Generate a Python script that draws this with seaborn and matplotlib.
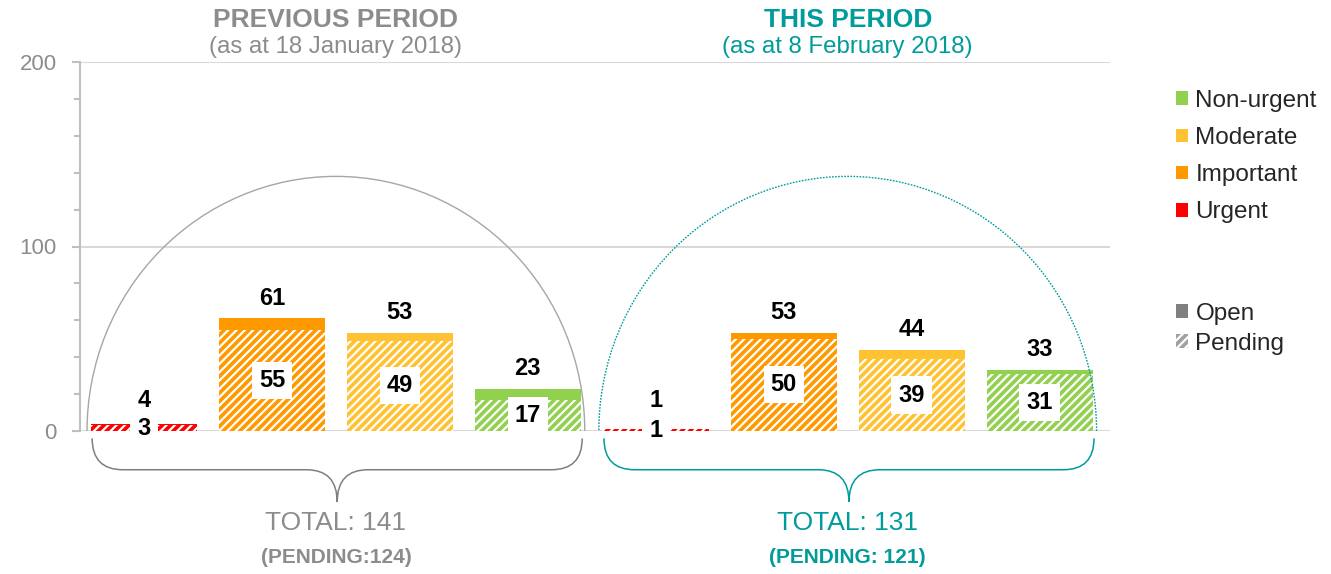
import numpy as np
import pandas as pd
import matplotlib
matplotlib.use("Agg")
import matplotlib.pyplot as plt
import seaborn as sns
from matplotlib.patches import Arc, Patch, PathPatch
from matplotlib.path import Path

# --- datos ---
categories = ["Urgent", "Important", "Moderate", "Non-urgent"]
cat_colors = ["#FF0000", "#FF9900", "#FFC233", "#92D050"]

prev_total = [4, 61, 53, 23]
prev_pending = [3, 55, 49, 17]
this_total = [1, 53, 44, 33]
this_pending = [1, 50, 39, 31]

period_titles = ["PREVIOUS PERIOD", "THIS PERIOD"]
period_dates = ["(as at 18 January 2018)", "(as at 8 February 2018)"]
period_totals = ["TOTAL: 141", "TOTAL: 131"]
period_pending = ["(PENDING:124)", "(PENDING: 121)"]
period_colors = ["#8C8C8C", "#009B9B"]
arc_colors = ["#A6A6A6", "#009B9B"]
brace_colors = ["#7F7F7F", "#009B9B"]

sns.set_theme(style="white")
plt.rcParams["font.family"] = ["Liberation Sans", "DejaVu Sans"]
plt.rcParams["hatch.linewidth"] = 1.6

slots = [f"{p}|{c}" for p in ["prev", "this"] for c in categories]
df = pd.DataFrame({
    "slot": slots,
    "total": prev_total + this_total,
    "pending": prev_pending + this_pending,
})
palette = dict(zip(slots, cat_colors * 2))

fig = plt.figure(figsize=(13.31, 5.74), dpi=100)
ax = fig.add_axes([80 / 1331, 1 - 431 / 574, (1110 - 80) / 1331, (431 - 62) / 574])

bw = 0.83
# barra completa (abierta) y encima la parte pendiente rayada
sns.barplot(data=df, x="slot", y="total", hue="slot", palette=palette, order=slots,
            hue_order=slots, width=bw, saturation=1, legend=False, errorbar=None,
            linewidth=0, ax=ax)
sns.barplot(data=df, x="slot", y="pending", hue="slot", palette=palette, order=slots,
            hue_order=slots, width=bw, saturation=1, legend=False, errorbar=None,
            linewidth=0, edgecolor="white", hatch="////", ax=ax)

# etiquetas: total encima, pendiente en caja blanca
for i, row in df.iterrows():
    ax.text(i, max(row["total"] + 11, 16.5), str(row["total"]), ha="center", va="center",
            fontsize=17, fontweight="bold", color="black", zorder=6)
    ax.text(i, row["pending"] / 2, str(row["pending"]), ha="center", va="center",
            fontsize=17, fontweight="bold", color="black", zorder=5,
            bbox=dict(boxstyle="square,pad=0.3", fc="white", ec="none"))

# ejes
ax.set_xlim(-0.5, 7.55)
ax.set_ylim(0, 200)
ax.set_xlabel("")
ax.set_ylabel("")
ax.set_xticks([])
ax.set_yticks([0, 100, 200])
ax.set_yticks(np.arange(0, 201, 20), minor=True)
ax.yaxis.grid(True, which="major", color="#D9D9D9", lw=1.5)
ax.set_axisbelow(True)
for s in ["top", "right", "bottom"]:
    ax.spines[s].set_visible(False)
ax.spines["left"].set_color("#BFBFBF")
ax.spines["left"].set_linewidth(1.5)
ax.tick_params(axis="y", which="major", left=True, length=5.8, width=1.5,
               color="#BFBFBF", labelsize=16, labelcolor="#8C8C8C", pad=10.8)
ax.tick_params(axis="y", which="minor", left=True, length=4.3, width=1.5, color="#BFBFBF")

# arcos, llaves y textos por periodo
group_centers = [1.5, 5.5]
arc_hw = 1.5 + bw / 2 + 0.03
arc_h = 138


def brace(x0, x1, color):
    xm = (x0 + x1) / 2
    y0, y1, y2 = -4, -21, -38.5
    r = 0.24
    verts = [(x0, y0), (x0, y1), (x0 + r, y1), (xm - r, y1), (xm, y1), (xm, y2),
             (xm, y1), (xm + r, y1), (x1 - r, y1), (x1, y1), (x1, y0)]
    codes = [Path.MOVETO, Path.CURVE3, Path.CURVE3, Path.LINETO, Path.CURVE3, Path.CURVE3,
             Path.CURVE3, Path.CURVE3, Path.LINETO, Path.CURVE3, Path.CURVE3]
    ax.add_patch(PathPatch(Path(verts, codes), fill=False, edgecolor=color, lw=1.1,
                           clip_on=False))


for k, g in enumerate(group_centers):
    ls = "-" if k == 0 else (0, (1.2, 1))
    ax.add_patch(Arc((g, 0), 2 * arc_hw, 2 * arc_h, theta1=0, theta2=180,
                     color=arc_colors[k], lw=1, ls=ls, clip_on=False))
    brace(g - 1.5 - bw / 2 + 0.01, g + 1.5 + bw / 2 + 0.01, brace_colors[k])
    col = period_colors[k]
    ax.text(g, 223, period_titles[k], ha="center", va="center", fontsize=19,
            fontweight="bold", color=col)
    ax.text(g, 208, period_dates[k], ha="center", va="center", fontsize=17.3, color=col)
    ax.text(g, -50, period_totals[k], ha="center", va="center", fontsize=19, color=col)
    ax.text(g, -68.3, period_pending[k], ha="center", va="center", fontsize=15,
            fontweight="bold", color=col)

# leyendas
h1 = [Patch(facecolor=c, linewidth=0) for c in cat_colors[::-1]]
leg1 = ax.legend(h1, categories[::-1], loc="upper left", bbox_to_anchor=(1176 / 1331, 1 - 90 / 574),
                 bbox_transform=fig.transFigure, frameon=False, fontsize=17.5,
                 handlelength=0.5, handleheight=0.5, handletextpad=0.3,
                 labelspacing=0.62, borderpad=0, borderaxespad=0)
ax.add_artist(leg1)
h2 = [Patch(facecolor="#808080", linewidth=0),
      Patch(facecolor="#A0A0A0", edgecolor="white", hatch="////", linewidth=0)]
ax.legend(h2, ["Open", "Pending"], loc="upper left", bbox_to_anchor=(1176 / 1331, 1 - 303 / 574),
          bbox_transform=fig.transFigure, frameon=False, fontsize=17.5,
          handlelength=0.5, handleheight=0.5, handletextpad=0.3,
          labelspacing=0.32, borderpad=0, borderaxespad=0)

fig.savefig("out.png", dpi=100)
